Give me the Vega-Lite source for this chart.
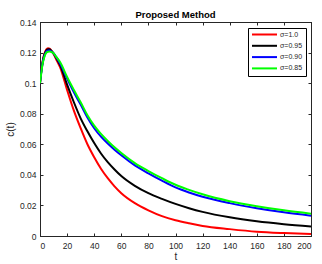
{
  "$schema": "https://vega.github.io/schema/vega-lite/v6.json",
  "width": 271,
  "height": 214,
  "autosize": {"type": "none"},
  "padding": {"left": 40, "top": 22, "right": 11, "bottom": 28},
  "background": "white",
  "title": {"text": "Proposed Method", "font": "Liberation Sans", "fontSize": 9.5, "fontWeight": "bold", "color": "#000", "offset": -1, "anchor": "middle"},
  "config": {
    "view": {"stroke": "#262626", "strokeWidth": 1},
    "axis": {
      "grid": false,
      "domainColor": "#262626",
      "tickColor": "#262626",
      "tickSize": -3,
      "labelFont": "Liberation Sans",
      "labelFontSize": 8.5,
      "labelColor": "#262626",
      "titleFont": "Liberation Sans",
      "titleFontSize": 10,
      "titleFontWeight": "normal",
      "titleColor": "#262626"
    },
    "legend": {
      "orient": "none",
      "legendX": 208,
      "legendY": 6,
      "strokeColor": "#000",
      "fillColor": "#fff",
      "padding": 3,
      "labelFont": "Liberation Sans",
      "labelFontSize": 7,
      "labelColor": "#262626",
      "symbolType": "M-1,0H9",
      "symbolSize": 25,
      "symbolStrokeWidth": 2,
      "rowPadding": 2.3,
      "labelOffset": 22
    }
  },
  "data": {"values": [
    {"s":"σ=1.0","t":0,"c":0.1},{"s":"σ=1.0","t":1,"c":0.1085},{"s":"σ=1.0","t":2,"c":0.1145},{"s":"σ=1.0","t":3,"c":0.1185},{"s":"σ=1.0","t":4,"c":0.121},{"s":"σ=1.0","t":5,"c":0.1224},{"s":"σ=1.0","t":6,"c":0.1229},{"s":"σ=1.0","t":7,"c":0.1226},{"s":"σ=1.0","t":8,"c":0.1218},{"s":"σ=1.0","t":10,"c":0.119},{"s":"σ=1.0","t":12,"c":0.1155},{"s":"σ=1.0","t":15,"c":0.11},{"s":"σ=1.0","t":20,"c":0.0955},{"s":"σ=1.0","t":25,"c":0.082},{"s":"σ=1.0","t":30,"c":0.0705},{"s":"σ=1.0","t":35,"c":0.06},{"s":"σ=1.0","t":40,"c":0.0515},{"s":"σ=1.0","t":45,"c":0.044},{"s":"σ=1.0","t":50,"c":0.0378},{"s":"σ=1.0","t":55,"c":0.0325},{"s":"σ=1.0","t":60,"c":0.028},{"s":"σ=1.0","t":70,"c":0.0215},{"s":"σ=1.0","t":80,"c":0.0168},{"s":"σ=1.0","t":90,"c":0.013},{"s":"σ=1.0","t":100,"c":0.0103},{"s":"σ=1.0","t":110,"c":0.0083},{"s":"σ=1.0","t":120,"c":0.0066},{"s":"σ=1.0","t":140,"c":0.0045},{"s":"σ=1.0","t":160,"c":0.0028},{"s":"σ=1.0","t":180,"c":0.0019},{"s":"σ=1.0","t":200,"c":0.0013},
    {"s":"σ=0.95","t":0,"c":0.1},{"s":"σ=0.95","t":1,"c":0.108},{"s":"σ=0.95","t":2,"c":0.114},{"s":"σ=0.95","t":3,"c":0.118},{"s":"σ=0.95","t":4,"c":0.1203},{"s":"σ=0.95","t":5,"c":0.1217},{"s":"σ=0.95","t":6,"c":0.1221},{"s":"σ=0.95","t":7,"c":0.1221},{"s":"σ=0.95","t":8,"c":0.1215},{"s":"σ=0.95","t":10,"c":0.1195},{"s":"σ=0.95","t":12,"c":0.1165},{"s":"σ=0.95","t":15,"c":0.1115},{"s":"σ=0.95","t":20,"c":0.099},{"s":"σ=0.95","t":25,"c":0.0875},{"s":"σ=0.95","t":30,"c":0.077},{"s":"σ=0.95","t":35,"c":0.0685},{"s":"σ=0.95","t":40,"c":0.0608},{"s":"σ=0.95","t":45,"c":0.054},{"s":"σ=0.95","t":50,"c":0.0483},{"s":"σ=0.95","t":55,"c":0.0435},{"s":"σ=0.95","t":60,"c":0.0392},{"s":"σ=0.95","t":70,"c":0.0328},{"s":"σ=0.95","t":80,"c":0.028},{"s":"σ=0.95","t":90,"c":0.0243},{"s":"σ=0.95","t":100,"c":0.021},{"s":"σ=0.95","t":110,"c":0.0182},{"s":"σ=0.95","t":120,"c":0.0158},{"s":"σ=0.95","t":140,"c":0.0122},{"s":"σ=0.95","t":160,"c":0.0096},{"s":"σ=0.95","t":180,"c":0.0077},{"s":"σ=0.95","t":200,"c":0.0062},
    {"s":"σ=0.90","t":0,"c":0.1},{"s":"σ=0.90","t":1,"c":0.1075},{"s":"σ=0.90","t":2,"c":0.1135},{"s":"σ=0.90","t":3,"c":0.1172},{"s":"σ=0.90","t":4,"c":0.1195},{"s":"σ=0.90","t":5,"c":0.121},{"s":"σ=0.90","t":6,"c":0.1214},{"s":"σ=0.90","t":7,"c":0.1214},{"s":"σ=0.90","t":8,"c":0.121},{"s":"σ=0.90","t":10,"c":0.1195},{"s":"σ=0.90","t":12,"c":0.117},{"s":"σ=0.90","t":15,"c":0.1125},{"s":"σ=0.90","t":20,"c":0.103},{"s":"σ=0.90","t":25,"c":0.094},{"s":"σ=0.90","t":30,"c":0.086},{"s":"σ=0.90","t":35,"c":0.0775},{"s":"σ=0.90","t":40,"c":0.0705},{"s":"σ=0.90","t":45,"c":0.065},{"s":"σ=0.90","t":50,"c":0.0605},{"s":"σ=0.90","t":55,"c":0.0565},{"s":"σ=0.90","t":60,"c":0.0528},{"s":"σ=0.90","t":70,"c":0.0462},{"s":"σ=0.90","t":80,"c":0.041},{"s":"σ=0.90","t":90,"c":0.0362},{"s":"σ=0.90","t":100,"c":0.0318},{"s":"σ=0.90","t":110,"c":0.0285},{"s":"σ=0.90","t":120,"c":0.0257},{"s":"σ=0.90","t":140,"c":0.0215},{"s":"σ=0.90","t":160,"c":0.0182},{"s":"σ=0.90","t":180,"c":0.0155},{"s":"σ=0.90","t":200,"c":0.0133},
    {"s":"σ=0.85","t":0,"c":0.1},{"s":"σ=0.85","t":1,"c":0.107},{"s":"σ=0.85","t":2,"c":0.113},{"s":"σ=0.85","t":3,"c":0.1165},{"s":"σ=0.85","t":4,"c":0.119},{"s":"σ=0.85","t":5,"c":0.1202},{"s":"σ=0.85","t":6,"c":0.1206},{"s":"σ=0.85","t":7,"c":0.1207},{"s":"σ=0.85","t":8,"c":0.1205},{"s":"σ=0.85","t":10,"c":0.1195},{"s":"σ=0.85","t":12,"c":0.1172},{"s":"σ=0.85","t":15,"c":0.1135},{"s":"σ=0.85","t":20,"c":0.104},{"s":"σ=0.85","t":25,"c":0.0955},{"s":"σ=0.85","t":30,"c":0.0875},{"s":"σ=0.85","t":35,"c":0.079},{"s":"σ=0.85","t":40,"c":0.0722},{"s":"σ=0.85","t":45,"c":0.0668},{"s":"σ=0.85","t":50,"c":0.0622},{"s":"σ=0.85","t":55,"c":0.058},{"s":"σ=0.85","t":60,"c":0.0543},{"s":"σ=0.85","t":70,"c":0.0477},{"s":"σ=0.85","t":80,"c":0.0425},{"s":"σ=0.85","t":90,"c":0.0378},{"s":"σ=0.85","t":100,"c":0.0335},{"s":"σ=0.85","t":110,"c":0.0302},{"s":"σ=0.85","t":120,"c":0.0273},{"s":"σ=0.85","t":140,"c":0.0228},{"s":"σ=0.85","t":160,"c":0.0195},{"s":"σ=0.85","t":180,"c":0.0168},{"s":"σ=0.85","t":200,"c":0.0146}
  ]},
  "layer": [
    {
      "mark": {"type": "line", "strokeWidth": 2, "interpolate": "monotone", "clip": true},
      "encoding": {
        "x": {"field": "t", "type": "quantitative", "scale": {"domain": [0, 200], "nice": false}, "axis": {"values": [0,20,40,60,80,100,120,140,160,180,200], "title": "t", "labelPadding": 8, "titlePadding": 2}},
        "y": {"field": "c", "type": "quantitative", "scale": {"domain": [0, 0.14], "nice": false, "zero": false}, "axis": {"values": [0,0.02,0.04,0.06,0.08,0.1,0.12,0.14], "format": "~g", "title": "c(t)", "labelPadding": 7, "titlePadding": 4}},
        "color": {"field": "s", "type": "nominal", "scale": {"domain": ["σ=1.0","σ=0.95","σ=0.90","σ=0.85"], "range": ["#ff0000","#000000","#0000ff","#00ff00"]}, "legend": {"title": null}}
      }
    },
    {
      "mark": {"type": "line", "strokeOpacity": 0},
      "encoding": {
        "x": {"field": "t", "type": "quantitative", "axis": {"orient": "top", "values": [0,20,40,60,80,100,120,140,160,180,200], "labels": false, "title": null}},
        "y": {"field": "c", "type": "quantitative", "axis": {"orient": "right", "values": [0,0.02,0.04,0.06,0.08,0.1,0.12,0.14], "labels": false, "title": null}},
        "detail": {"field": "s"}
      }
    }
  ],
  "resolve": {"axis": {"x": "independent", "y": "independent"}}
}
